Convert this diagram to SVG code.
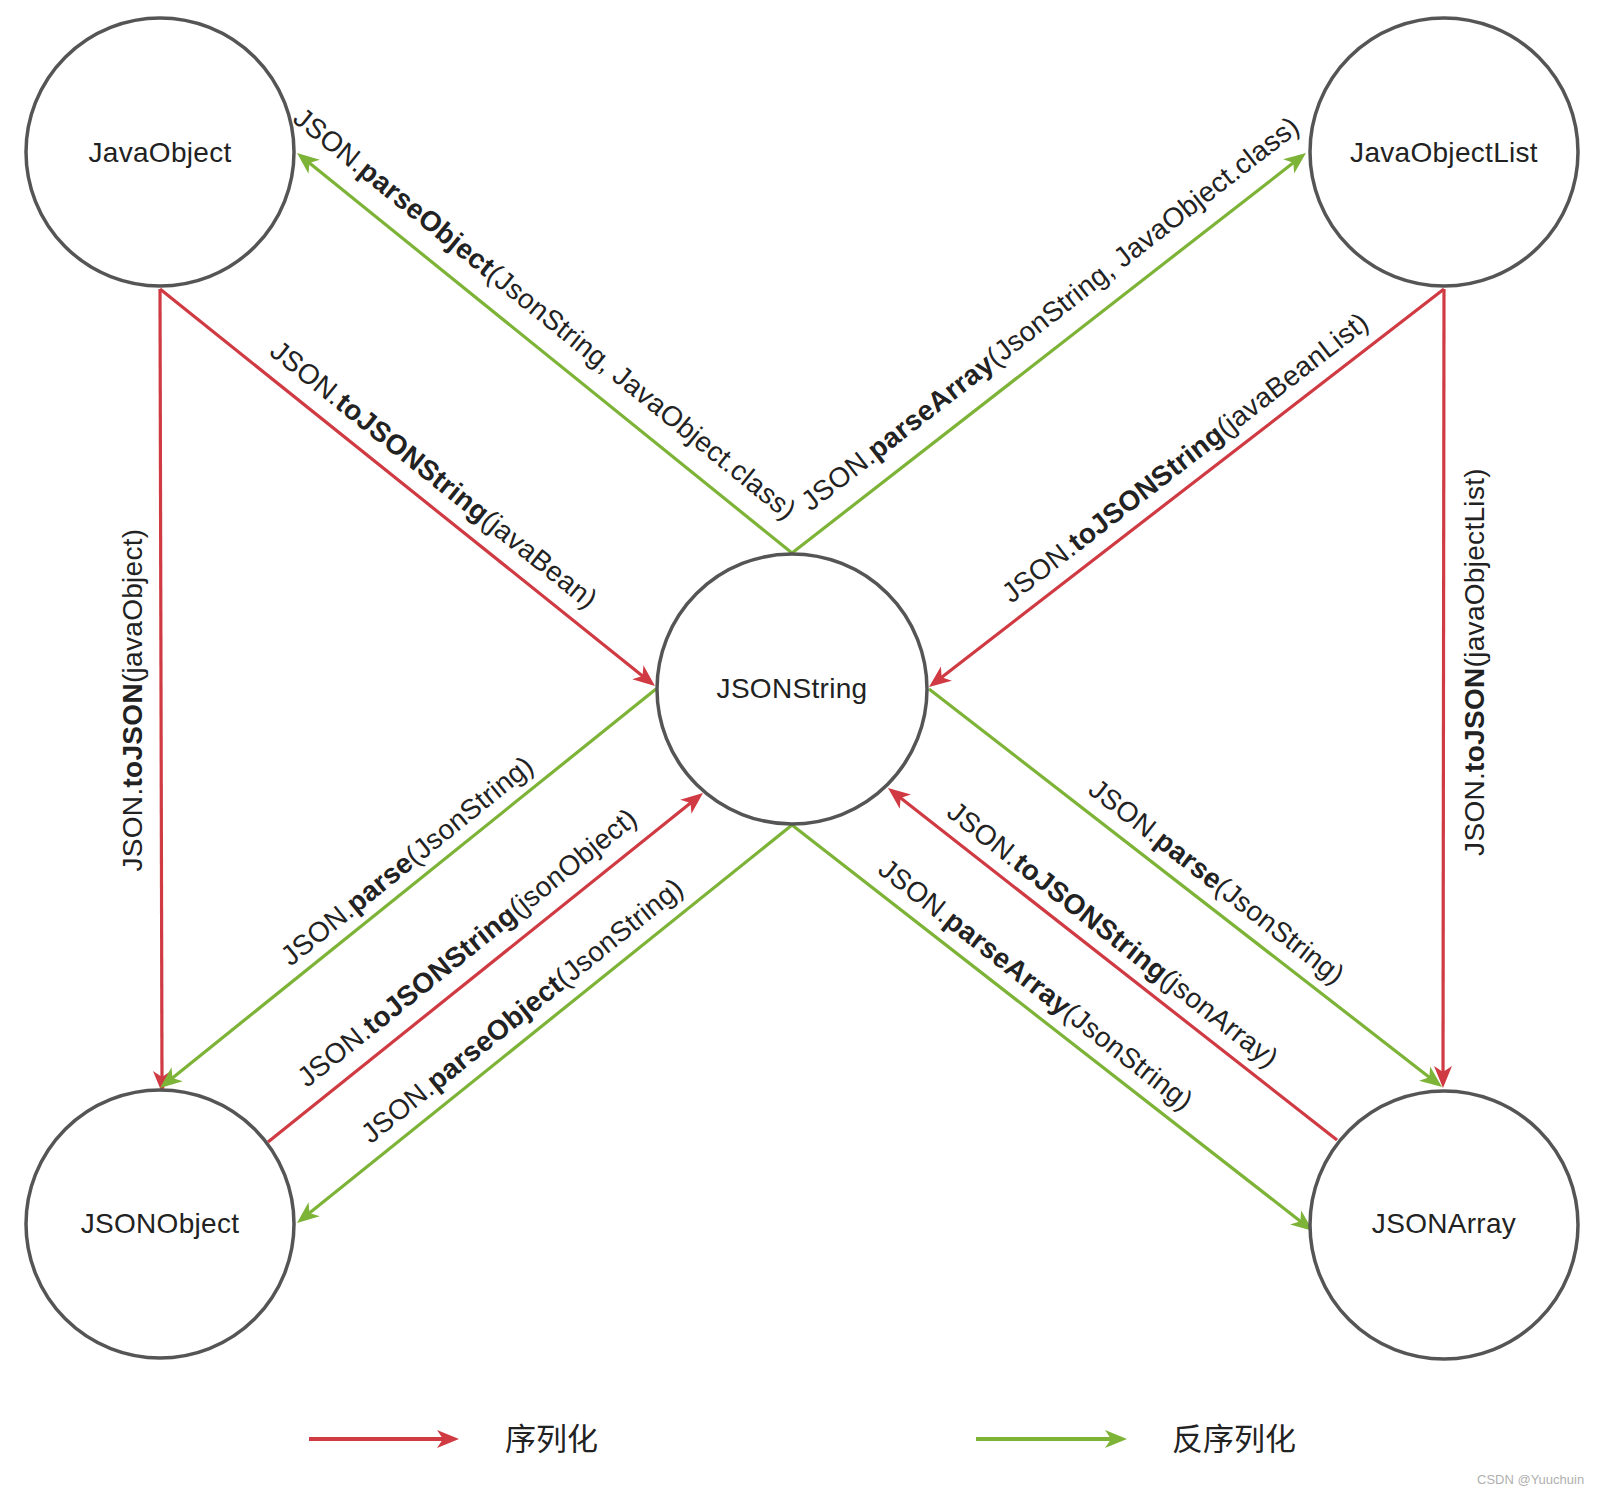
<svg xmlns="http://www.w3.org/2000/svg" width="1600" height="1494" viewBox="0 0 1600 1494">
<defs>
<style>
.node{fill:#ffffff;stroke:#555555;stroke-width:3.5}
.nt{font-family:"Liberation Sans",Arial,sans-serif;font-size:28px;fill:#222222;text-anchor:middle;letter-spacing:0.3px}
.lbl{font-family:"Liberation Sans",Arial,sans-serif;font-size:28px;fill:#222222;text-anchor:middle;letter-spacing:0.3px}
.b{font-weight:bold}
.red{stroke:#d03a42;stroke-width:3.2;fill:none;marker-end:url(#ar)}
.green{stroke:#7db337;stroke-width:3.2;fill:none;marker-end:url(#ag)}
.leg{font-family:"Liberation Sans","Noto Sans CJK SC",sans-serif;font-size:31px;fill:#222222}
.wm{font-family:"Liberation Sans",Arial,sans-serif;font-size:13px;fill:#b0b0b0}
</style>
<marker id="ar" markerUnits="userSpaceOnUse" viewBox="-13 -10 24 20" refX="0" refY="0" markerWidth="24" markerHeight="20" orient="auto">
<path d="M10,0 L-12,-9 L-6,0 L-12,9 Z" fill="#d03a42"/>
</marker>
<marker id="ag" markerUnits="userSpaceOnUse" viewBox="-13 -10 24 20" refX="0" refY="0" markerWidth="24" markerHeight="20" orient="auto">
<path d="M10,0 L-12,-9 L-6,0 L-12,9 Z" fill="#7db337"/>
</marker>
</defs>
<rect width="1600" height="1494" fill="#ffffff"/>

<g id="connectors">
<path class="red" d="M160,289 L647.2,679.7"/>
<path class="red" d="M160,289 L162,1083"/>
<path class="green" d="M792,553 L304.8,159.3"/>
<path class="green" d="M792,553 L1298.1,159.1"/>
<path class="red" d="M1444,289 L936.9,680.9"/>
<path class="red" d="M1444,289 L1443,1078"/>
<path class="green" d="M656,689 L167.8,1081.7"/>
<path class="red" d="M268,1142 L695.2,799.3"/>
<path class="green" d="M792,825 L304.8,1216.7"/>
<path class="green" d="M929,689 L1434.1,1080.9"/>
<path class="red" d="M1337,1140 L895.9,794.2"/>
<path class="green" d="M792,825 L1305.1,1224.9"/>

<text class="lbl" transform="translate(539,321) rotate(38.94)">JSON.<tspan class="b">parseObject</tspan>(JsonString, JavaObject.class)</text>
<text class="lbl" transform="translate(1056,321) rotate(-37.89)">JSON.<tspan class="b">parseArray</tspan>(JsonString, JavaObject.class)</text>
<text class="lbl" transform="translate(428,482) rotate(38.73)">JSON.<tspan class="b">toJSONString</tspan>(javaBean)</text>
<text class="lbl" transform="translate(1191,465) rotate(-37.7)">JSON.<tspan class="b">toJSONString</tspan>(javaBeanList)</text>
<text class="lbl" transform="translate(142,700) rotate(-90)">JSON.<tspan class="b">toJSON</tspan>(javaObject)</text>
<text class="lbl" transform="translate(1484,662) rotate(-90)">JSON.<tspan class="b">toJSON</tspan>(javaObjectList)</text>
<text class="lbl" transform="translate(413,868) rotate(-38.94)">JSON.<tspan class="b">parse</tspan>(JsonString)</text>
<text class="lbl" transform="translate(473,955) rotate(-38.74)">JSON.<tspan class="b">toJSONString</tspan>(jsonObject)</text>
<text class="lbl" transform="translate(528,1018) rotate(-38.8)">JSON.<tspan class="b">parseObject</tspan>(JsonString)</text>
<text class="lbl" transform="translate(1211,889) rotate(37.87)">JSON.<tspan class="b">parse</tspan>(JsonString)</text>
<text class="lbl" transform="translate(1107,942) rotate(38.09)">JSON.<tspan class="b">toJSONString</tspan>(jsonArray)</text>
<text class="lbl" transform="translate(1030,992) rotate(37.93)">JSON.<tspan class="b">parseArray</tspan>(JsonString)</text>
</g>

<g id="node-javaobject">
<circle class="node" cx="160" cy="152" r="134"/>
<text class="nt" x="160" y="162">JavaObject</text>
</g>
<g id="node-javaobjectlist">
<circle class="node" cx="1444" cy="152" r="134"/>
<text class="nt" x="1444" y="162">JavaObjectList</text>
</g>
<g id="node-jsonstring">
<circle class="node" cx="792" cy="689" r="135"/>
<text class="nt" x="792" y="698">JSONString</text>
</g>
<g id="node-jsonobject">
<circle class="node" cx="160" cy="1224" r="134"/>
<text class="nt" x="160" y="1233">JSONObject</text>
</g>
<g id="node-jsonarray">
<circle class="node" cx="1444" cy="1225" r="134"/>
<text class="nt" x="1444" y="1233">JSONArray</text>
</g>

<g id="legend">
<path d="M309,1439 L449,1439" stroke="#d03a42" stroke-width="4" fill="none" marker-end="url(#ar)"/>
<text class="leg" x="505" y="1450">序列化</text>
<path d="M976,1439 L1117,1439" stroke="#7db337" stroke-width="4" fill="none" marker-end="url(#ag)"/>
<text class="leg" x="1172" y="1450">反序列化</text>
</g>
<text class="wm" x="1477" y="1484">CSDN @Yuuchuin</text>
</svg>
